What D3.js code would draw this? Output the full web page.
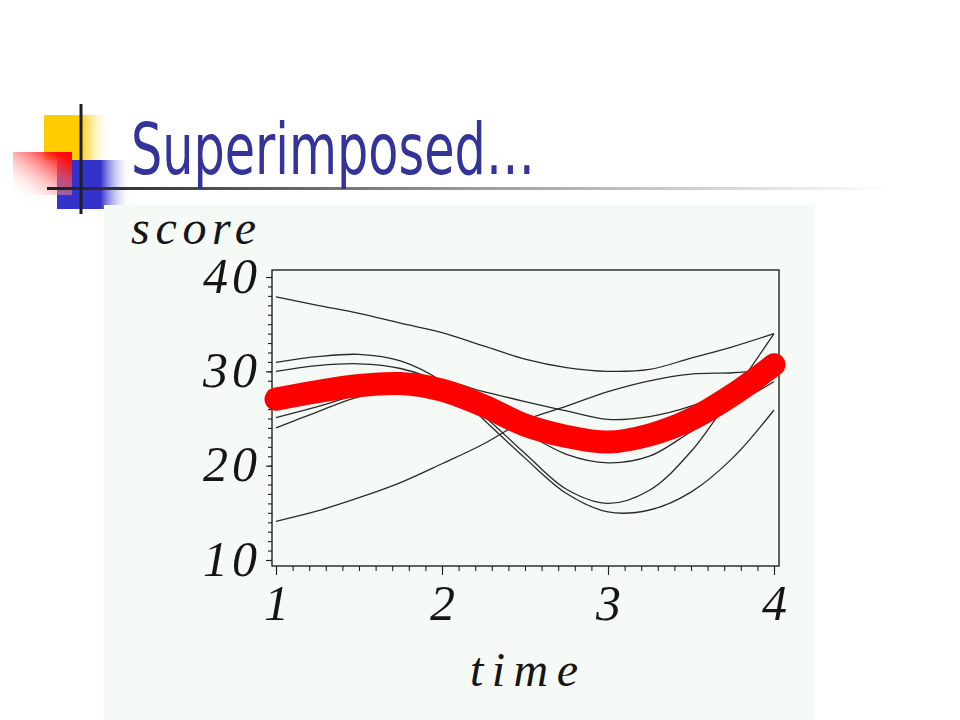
<!DOCTYPE html>
<html><head><meta charset="utf-8">
<script src="https://cdn.jsdelivr.net/npm/d3@7"></script>
<style>html,body{margin:0;padding:0;background:#fff;} svg{display:block;}</style>
</head><body>
<script>
// ---- data ----
const times    = [1, 1.25, 1.5, 1.75, 2, 2.25, 2.5, 2.75, 3, 3.25, 3.5, 3.75, 4];
const subjectA = [37.9, 37.0, 36.15, 35.1, 34.1, 32.7, 31.3, 30.4, 30.0, 30.2, 31.4, 32.6, 34.0];
const subjectB = [30.95, 31.55, 31.8, 31.1, 28.9, 24.9, 20.8, 17.05, 15.1, 15.3, 17.2, 20.8, 25.9];
const subjectC = [30.0, 30.6, 30.8, 30.3, 28.7, 25.3, 21.3, 17.5, 16.0, 17.4, 21.5, 27.6, 34.0];
const subjectD = [25.1, 26.25, 27.6, 28.6, 29.0, 27.85, 26.8, 25.8, 24.9, 25.2, 26.3, 28.2, 31.0];
const subjectE = [24.0, 25.7, 27.3, 27.8, 27.5, 26.0, 23.5, 21.2, 20.3, 21.0, 23.6, 26.3, 28.9];
const subjectF = [14.1, 15.2, 16.6, 18.2, 20.2, 22.3, 24.8, 26.3, 27.85, 29.0, 29.7, 29.85, 30.2];
const meanScore = [27.05, 27.85, 28.5, 28.7, 28.0, 26.35, 24.3, 23.1, 22.5, 23.25, 24.9, 27.5, 30.7];
const xTickValues = [1, 2, 3, 4];
const yTickValues = [10, 20, 30, 40];
const titleText = "Superimposed…";
const xLabel = "time";
const yLabel = "score";

const W = 960, H = 720;
const svg = d3.select("body").append("svg").attr("width", W).attr("height", H);
const defs = svg.append("defs");

function lin(id, x1, y1, x2, y2, stops) {
  const g = defs.append("linearGradient").attr("id", id)
    .attr("x1", x1).attr("y1", y1).attr("x2", x2).attr("y2", y2);
  stops.forEach(s => g.append("stop").attr("offset", s[0]).attr("stop-color", s[1]).attr("stop-opacity", s[2] == null ? 1 : s[2]));
}
lin("gYellow", 0, 0, 1, 0, [[0, "#ffcc00"], [0.53, "#ffcc00"], [1, "#ffffff", 0]]);
lin("gBlue", 0, 0, 1, 0, [[0, "#3333cc"], [0.58, "#3333cc"], [1, "#ffffff", 0]]);
lin("gRed", 1, 0, 0, 1, [[0, "#ff0000"], [0.15, "#ff1010"], [1, "#ffffff", 0]]);
lin("gRule", 0, 0, 1, 0, [[0, "#1e1e1e"], [0.5, "#9a9a9a"], [1, "#ffffff"]]);

// ---- slide decoration ----
svg.append("rect").attr("x", 44).attr("y", 115).attr("width", 68).attr("height", 45).attr("fill", "url(#gYellow)");
svg.append("rect").attr("x", 57).attr("y", 160).attr("width", 75).attr("height", 49).attr("fill", "url(#gBlue)");
svg.append("rect").attr("x", 13).attr("y", 152).attr("width", 59).attr("height", 43).attr("fill", "url(#gRed)");
svg.append("rect").attr("x", 47).attr("y", 187).attr("width", 845).attr("height", 3).attr("fill", "url(#gRule)");
svg.append("rect").attr("x", 79.5).attr("y", 104).attr("width", 3).attr("height", 110).attr("fill", "#1e1e1e");

svg.append("text").attr("x", 131).attr("y", 174)
  .attr("font-family", "DejaVu Sans, Verdana, sans-serif").attr("font-size", 71)
  .attr("fill", "#333399").attr("textLength", 404).attr("lengthAdjust", "spacingAndGlyphs")
  .text(titleText);

// ---- chart panel ----
svg.append("rect").attr("x", 104).attr("y", 205).attr("width", 711).attr("height", 515).attr("fill", "#f6faf7");

const x = d3.scaleLinear().domain([1, 4]).range([276, 774]);
const y = d3.scaleLinear().domain([10, 40]).range([560, 277]);
const frame = {l: 272, r: 779, t: 270, b: 566};

const labelFont = "'Liberation Serif', 'Times New Roman', serif";
function styleAxis(g) {
  g.select(".domain").remove();
  g.selectAll(".tick line").attr("stroke", "#222").attr("stroke-width", 1.1);
  g.selectAll("text").attr("font-family", labelFont).attr("font-style", "italic")
    .attr("font-size", 50).attr("fill", "#151515").attr("dy", null);
}

// x axis ticks
svg.append("g").attr("transform", `translate(0,${frame.b})`)
  .call(d3.axisBottom(x).tickValues(d3.range(10, 41).map(d => d / 10)).tickSize(5).tickFormat(""))
  .call(styleAxis);
const gx = svg.append("g").attr("transform", `translate(0,${frame.b})`)
  .call(d3.axisBottom(x).tickValues(xTickValues).tickSize(9).tickPadding(12).tickFormat(d3.format("d")))
  .call(styleAxis);
gx.selectAll("text").attr("y", 54);

// y axis ticks
svg.append("g").attr("transform", `translate(${frame.l},0)`)
  .call(d3.axisLeft(y).tickValues(d3.range(10, 41)).tickSize(4).tickFormat(""))
  .call(styleAxis);
const gy = svg.append("g").attr("transform", `translate(${frame.l},0)`)
  .call(d3.axisLeft(y).tickValues(yTickValues).tickSize(6).tickPadding(8).tickFormat(d3.format("d")))
  .call(styleAxis);
gy.selectAll("text").attr("letter-spacing", "4px").attr("x", -11).attr("y", 15);

// frame
svg.append("rect").attr("x", frame.l).attr("y", frame.t)
  .attr("width", frame.r - frame.l).attr("height", frame.b - frame.t)
  .attr("fill", "none").attr("stroke", "#222").attr("stroke-width", 1.4);

// axis titles
svg.append("text").attr("x", 131).attr("y", 244)
  .attr("font-family", labelFont).attr("font-style", "italic").attr("font-size", 48)
  .attr("fill", "#151515").attr("textLength", 125).attr("lengthAdjust", "spacing").text(yLabel);
svg.append("text").attr("x", 470).attr("y", 686)
  .attr("font-family", labelFont).attr("font-style", "italic").attr("font-size", 48)
  .attr("fill", "#151515").attr("textLength", 108).attr("lengthAdjust", "spacing").text(xLabel);

// ---- curves ----
const line = d3.line().x((d, i) => x(times[i])).y(d => y(d)).curve(d3.curveCatmullRom.alpha(0.5));
const subjects = [subjectA, subjectB, subjectC, subjectD, subjectE, subjectF];
svg.append("g").selectAll("path").data(subjects).join("path")
  .attr("d", line).attr("fill", "none").attr("stroke", "#2a2a2a").attr("stroke-width", 1.3);

svg.append("path").datum(meanScore).attr("d", line)
  .attr("fill", "none").attr("stroke", "#ff0000").attr("stroke-width", 23)
  .attr("stroke-linecap", "round").attr("stroke-linejoin", "round");
</script>
</body></html>
